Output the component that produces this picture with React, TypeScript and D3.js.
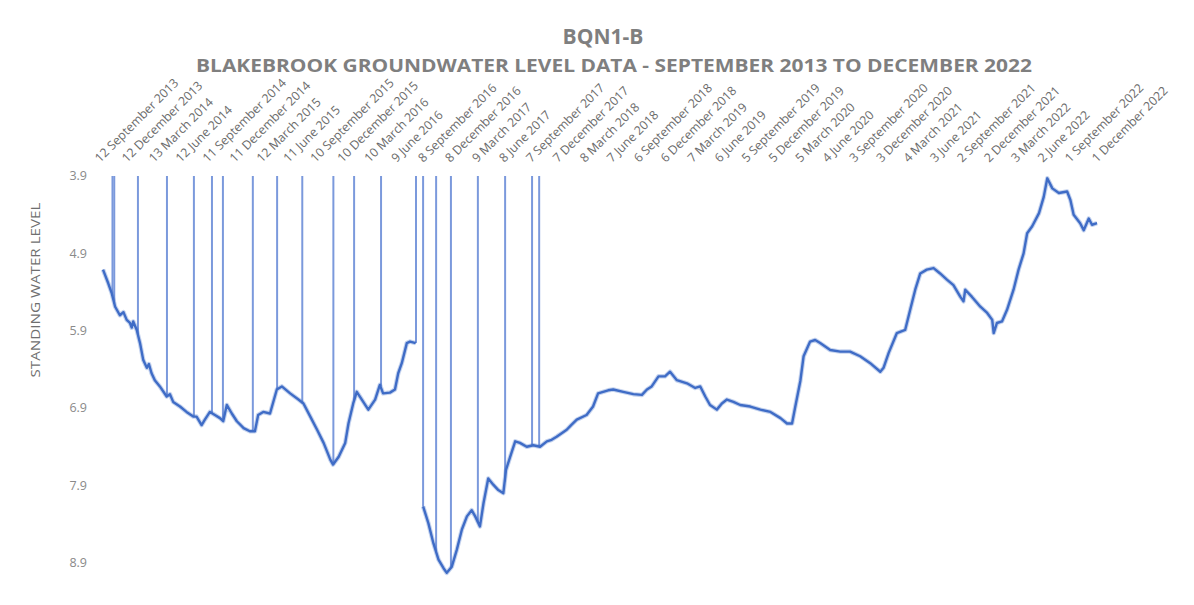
import * as d3 from 'd3'

const W = 1194
const H = 605

// quarterly axis labels (Excel date axis, 91 day steps)
const tickLabels = [
  '12 September 2013', '12 December 2013', '13 March 2014', '12 June 2014',
  '11 September 2014', '11 December 2014', '12 March 2015', '11 June 2015',
  '10 September 2015', '10 December 2015', '10 March 2016', '9 June 2016',
  '8 September 2016', '8 December 2016', '9 March 2017', '8 June 2017',
  '7 September 2017', '7 December 2017', '8 March 2018', '7 June 2018',
  '6 September 2018', '6 December 2018', '7 March 2019', '6 June 2019',
  '5 September 2019', '5 December 2019', '5 March 2020', '4 June 2020',
  '3 September 2020', '3 December 2020', '4 March 2021', '3 June 2021',
  '2 September 2021', '2 December 2021', '3 March 2022', '2 June 2022',
  '1 September 2022', '1 December 2022',
]

const yTicks = [3.9, 4.9, 5.9, 6.9, 7.9, 8.9]

// standing water level readings (null = logger gap)
const waterLevel: [string, number | null][] = [
  ['2013-09-12', 5.11], ['2013-09-30', 5.29], ['2013-10-11', 5.41], ['2013-10-23', 5.59],
  ['2013-11-08', 5.70], ['2013-11-20', 5.66], ['2013-12-01', 5.76], ['2013-12-12', 5.80], ['2013-12-18', 5.86],
  ['2013-12-23', 5.78], ['2014-01-04', 5.89], ['2014-01-15', 6.06], ['2014-01-26', 6.28],
  ['2014-02-07', 6.38], ['2014-02-14', 6.33], ['2014-02-23', 6.45], ['2014-03-06', 6.54], ['2014-03-23', 6.62],
  ['2014-04-15', 6.75], ['2014-04-26', 6.72], ['2014-05-07', 6.82], ['2014-05-30', 6.88], ['2014-06-21', 6.95],
  ['2014-07-14', 7.01], ['2014-07-25', 7.01], ['2014-08-11', 7.12], ['2014-08-22', 7.05],
  ['2014-09-08', 6.95], ['2014-09-25', 6.99], ['2014-10-12', 7.03], ['2014-10-23', 7.07],
  ['2014-11-04', 6.86], ['2014-11-21', 6.97], ['2014-12-08', 7.07], ['2014-12-31', 7.16],
  ['2015-01-21', 7.20], ['2015-02-07', 7.20], ['2015-02-18', 6.99], ['2015-03-07', 6.95],
  ['2015-03-30', 6.97], ['2015-04-22', 6.66], ['2015-05-09', 6.62], ['2015-06-06', 6.71],
  ['2015-07-04', 6.79], ['2015-07-21', 6.84], ['2015-08-13', 7.01], ['2015-09-05', 7.18],
  ['2015-09-27', 7.35], ['2015-10-20', 7.57], ['2015-10-29', 7.63], ['2015-11-17', 7.53],
  ['2015-12-09', 7.35], ['2015-12-20', 7.10], ['2016-01-05', 6.84], ['2016-01-17', 6.69],
  ['2016-02-03', 6.79], ['2016-02-25', 6.92], ['2016-03-19', 6.79], ['2016-04-04', 6.60],
  ['2016-04-15', 6.71], ['2016-05-08', 6.70], ['2016-05-25', 6.66], ['2016-06-05', 6.45],
  ['2016-06-17', 6.32], ['2016-07-04', 6.06], ['2016-07-15', 6.04], ['2016-08-03', 6.06],
  ['2016-08-15', null],
  ['2016-08-28', 8.17], ['2016-09-15', 8.39], ['2016-10-02', 8.65], ['2016-10-19', 8.86],
  ['2016-11-05', 8.97], ['2016-11-16', 9.03], ['2016-12-03', 8.95], ['2016-12-20', 8.73],
  ['2017-01-06', 8.47], ['2017-01-23', 8.30], ['2017-02-08', 8.22], ['2017-02-20', 8.30],
  ['2017-03-08', 8.43], ['2017-03-20', 8.13], ['2017-04-05', 7.81], ['2017-04-22', 7.89],
  ['2017-05-09', 7.96], ['2017-05-26', 8.00], ['2017-06-04', 7.70], ['2017-06-18', 7.53],
  ['2017-07-05', 7.33], ['2017-07-21', 7.35], ['2017-08-13', 7.40], ['2017-09-04', 7.38],
  ['2017-09-27', 7.40], ['2017-10-20', 7.33], ['2017-11-05', 7.31], ['2017-11-22', 7.27], ['2017-12-26', 7.18],
  ['2018-01-10', 7.12], ['2018-01-29', 7.05], ['2018-03-03', 6.99], ['2018-03-25', 6.88], ['2018-04-11', 6.71],
  ['2018-04-28', 6.69], ['2018-05-15', 6.67], ['2018-06-01', 6.66], ['2018-07-05', 6.69], ['2018-08-08', 6.72],
  ['2018-09-06', 6.73], ['2018-09-23', 6.66], ['2018-10-09', 6.62], ['2018-11-01', 6.49],
  ['2018-11-23', 6.49], ['2018-12-10', 6.43], ['2019-01-02', 6.54], ['2019-02-05', 6.58],
  ['2019-03-05', 6.64], ['2019-03-22', 6.62], ['2019-04-08', 6.75], ['2019-04-24', 6.86],
  ['2019-05-17', 6.92], ['2019-06-03', 6.84], ['2019-06-20', 6.79], ['2019-07-12', 6.82],
  ['2019-08-04', 6.86], ['2019-09-07', 6.88], ['2019-10-11', 6.92], ['2019-11-14', 6.95],
  ['2019-12-18', 7.03], ['2020-01-09', 7.10], ['2020-01-26', 7.10], ['2020-02-06', 6.88],
  ['2020-02-23', 6.55], ['2020-03-05', 6.23], ['2020-03-27', 6.04], ['2020-04-13', 6.02],
  ['2020-04-30', 6.06], ['2020-06-03', 6.15], ['2020-07-07', 6.17], ['2020-08-09', 6.17],
  ['2020-09-12', 6.23], ['2020-10-16', 6.32], ['2020-11-19', 6.43], ['2020-11-30', 6.38],
  ['2020-12-17', 6.19], ['2021-01-14', 5.93], ['2021-02-11', 5.89], ['2021-02-28', 5.63],
  ['2021-03-17', 5.37], ['2021-04-03', 5.16], ['2021-04-25', 5.11], ['2021-05-18', 5.09],
  ['2021-06-09', 5.16], ['2021-07-02', 5.24], ['2021-07-24', 5.31], ['2021-08-16', 5.46],
  ['2021-08-27', 5.52], ['2021-09-02', 5.37], ['2021-09-24', 5.46], ['2021-10-23', 5.59],
  ['2021-11-15', 5.67], ['2021-12-02', 5.76], ['2021-12-07', 5.93], ['2021-12-18', 5.80],
  ['2022-01-04', 5.78], ['2022-01-21', 5.63], ['2022-02-12', 5.37], ['2022-03-01', 5.11],
  ['2022-03-18', 4.90], ['2022-03-30', 4.64], ['2022-04-16', 4.55], ['2022-05-09', 4.38],
  ['2022-05-25', 4.17], ['2022-06-06', 3.93], ['2022-06-23', 4.06], ['2022-07-15', 4.12],
  ['2022-08-12', 4.10], ['2022-08-23', 4.21], ['2022-09-03', 4.40], ['2022-09-25', 4.51],
  ['2022-10-07', 4.60], ['2022-10-24', 4.45], ['2022-11-04', 4.53], ['2022-11-21', 4.51],
]

// logger download spikes: date and level the spike rises from
const spikeDates = [
  '2013-10-14', '2013-10-20', '2014-01-08', '2014-04-16', '2014-07-16', '2014-09-15',
  '2014-10-22', '2015-01-31', '2015-04-23', '2015-07-17', '2015-10-30', '2016-01-08',
  '2016-04-08', '2016-08-04', '2016-08-28', '2016-10-11', '2016-11-30', '2017-03-01',
  '2017-06-01', '2017-08-31', '2017-09-24',
]
const spikeBase = [
  5.45, 5.55, 5.95, 6.75, 7.01, 6.97,
  7.07, 7.20, 6.66, 6.84, 7.63, 6.80,
  6.62, 6.06, 8.17, 8.75, 8.97, 8.38,
  7.85, 7.38, 7.40,
]

const parseDate = d3.timeParse('%Y-%m-%d')
const parseLabel = d3.timeParse('%d %B %Y')

const x = d3.scaleTime()
  .domain([parseDate('2013-09-12')!, parseDate('2022-12-01')!])
  .range([103, 1100])

const y = d3.scaleLinear()
  .domain([3.9, 9.2])
  .range([176, 586])

const line = d3.line<[string, number | null]>()
  .defined(d => d[1] !== null)
  .x(d => x(parseDate(d[0])!))
  .y(d => y(d[1] as number))

const BLUE = '#3f6cc6'
const GREY = '#7f7f7f'

export default function App() {
  const path = line(waterLevel) || ''
  return (
    <svg width={W} height={H} style={{ position: 'absolute', left: 0, top: 0, background: '#fff' }}
      fontFamily="'Open Sans', sans-serif">
      <defs>
        <clipPath id="plot">
          <rect x={90} y={y(3.9)} width={1030} height={H - y(3.9)} />
        </clipPath>
      </defs>

      <text x={603} y={44} textAnchor="middle" fontSize={21} fontWeight="bold" fill={GREY}>BQN1-B</text>
      <text x={614} y={72} textAnchor="middle" fontSize={18.5} fontWeight="bold" fill={GREY}
        textLength={836} lengthAdjust="spacingAndGlyphs">
        BLAKEBROOK GROUNDWATER LEVEL DATA - SEPTEMBER 2013 TO DECEMBER 2022
      </text>

      {tickLabels.map(t => (
        <text key={t} transform={`translate(${x(parseLabel(t)!) - 3},163) rotate(-45)`}
          fontSize={12.3} fill="#6b6b6b">{t}</text>
      ))}

      {yTicks.map(v => (
        <text key={v} x={87} y={y(v)} dy="0.35em" textAnchor="end" fontSize={12.5} fill="#8a8a8a">
          {v.toFixed(1)}
        </text>
      ))}

      <text transform="translate(40,290) rotate(-90)" textAnchor="middle" fontSize={12.5} fill="#6f6f6f"
        textLength={175} lengthAdjust="spacingAndGlyphs">
        STANDING WATER LEVEL
      </text>

      <g clipPath="url(#plot)">
        {spikeDates.map((d, i) => (
          <line key={d} x1={x(parseDate(d)!)} x2={x(parseDate(d)!)} y1={y(spikeBase[i])} y2={y(3.9)}
            stroke="#7b99dc" strokeWidth={2} />
        ))}
        <path d={path} fill="none" stroke={BLUE} strokeWidth={4.5} strokeOpacity={0.3} strokeLinejoin="round" />
        <path d={path} fill="none" stroke={BLUE} strokeWidth={2.4} strokeLinejoin="round" />
      </g>
    </svg>
  )
}
